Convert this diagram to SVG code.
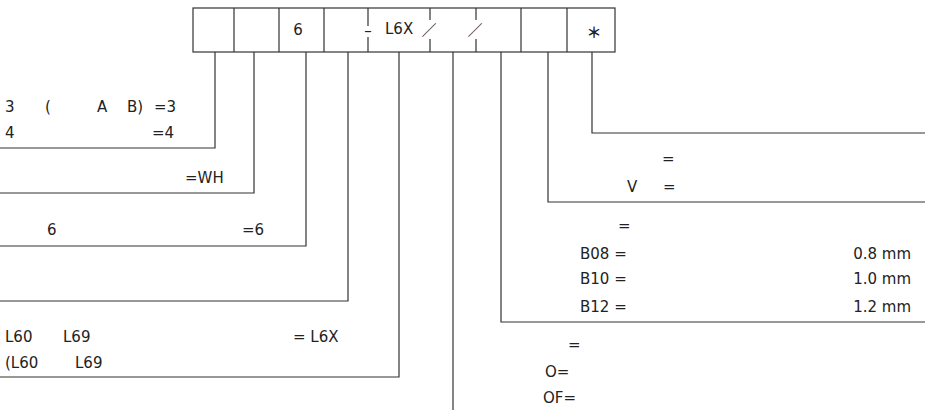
<svg xmlns="http://www.w3.org/2000/svg" width="925" height="414" viewBox="0 0 925 414">
<style>
text{font-family:"DejaVu Sans","Noto Sans CJK JP",sans-serif;font-size:15px;fill:#222}
text.cjk{font-family:"Noto Sans CJK JP",sans-serif}
.ln{stroke:#333;stroke-width:1.2;fill:none}
.box{stroke:#333;stroke-width:1.2;fill:#fff}
</style>
<rect width="925" height="414" fill="#fff"/>
<g id="code-box">
<rect class="box" x="193" y="8" width="422" height="44"/>
<path class="ln" d="M234 8V52M279 8V52M324 8V52M521 8V52M567 8V52"/>
<path class="ln" d="M368 8V26M368 37V52M430 8V20M430 39V52M476 8V20M476 39V52"/>
<text x="298" y="35" text-anchor="middle" font-size="14">6</text>
<text x="368" y="36" text-anchor="middle" font-size="19">–</text>
<text x="385" y="34" font-size="14">L6X</text>
<text class="cjk" x="429" y="36" text-anchor="middle" font-size="15">／</text>
<text class="cjk" x="475" y="36" text-anchor="middle" font-size="15">／</text>
<text class="cjk" x="594" y="38" text-anchor="middle" font-size="16" font-weight="bold">＊</text>
</g>
<g id="connectors">
<path class="ln" d="M215 52V148H0"/>
<path class="ln" d="M254 52V193H0"/>
<path class="ln" d="M306 52V246H0"/>
<path class="ln" d="M348 52V301H0"/>
<path class="ln" d="M399 52V377H0"/>
<path class="ln" d="M453 52V410"/>
<path class="ln" d="M501 52V322H925"/>
<path class="ln" d="M548 52V202H925"/>
<path class="ln" d="M592 52V133H925"/>
</g>
<g id="label-1">
<text x="5" y="112">3</text><text x="45" y="112">(</text><text x="97" y="112">A</text><text x="127" y="112">B)</text><text x="154" y="112">=3</text>
<text x="5" y="138">4</text><text x="152" y="138">=4</text>
</g>
<g id="label-2"><text x="185" y="183">=WH</text></g>
<g id="label-3"><text x="47" y="235">6</text><text x="242" y="235">=6</text></g>
<g id="label-5">
<text x="5" y="342">L60</text><text x="63" y="342">L69</text><text x="293" y="342">= L6X</text>
<text x="5" y="368">(L60</text><text x="75" y="368">L69</text>
</g>
<g id="label-6">
<text x="568" y="350">=</text>
<text x="545" y="377">O=</text>
<text x="543" y="403">OF=</text>
</g>
<g id="label-7">
<text x="618" y="231">=</text>
<text x="580" y="259">B08 =</text><text x="911" y="259" text-anchor="end">0.8 mm</text>
<text x="580" y="284">B10 =</text><text x="911" y="284" text-anchor="end">1.0 mm</text>
<text x="580" y="312">B12 =</text><text x="911" y="312" text-anchor="end">1.2 mm</text>
</g>
<g id="label-8">
<text x="662" y="164">=</text>
<text x="627" y="192">V</text><text x="663" y="192">=</text>
</g>
</svg>
